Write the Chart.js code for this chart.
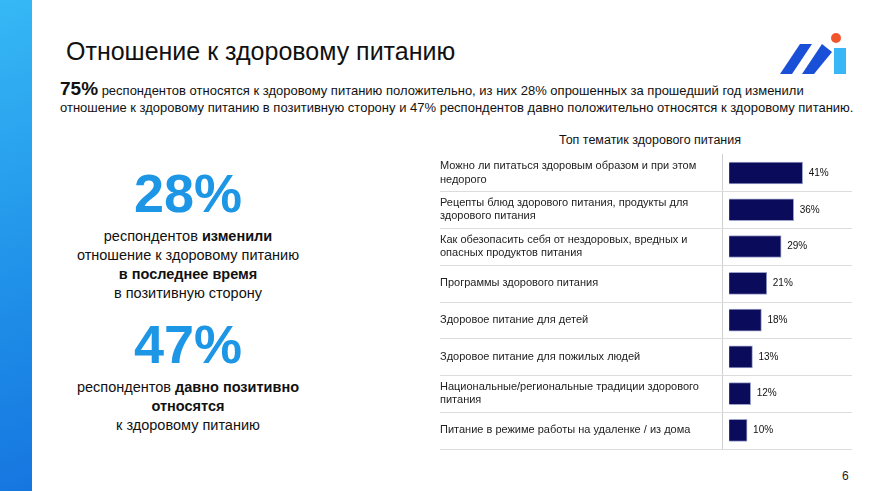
<!DOCTYPE html>
<html>
<head>
<meta charset="utf-8">
<script src="https://cdn.jsdelivr.net/npm/chart.js@4.4.0/dist/chart.umd.min.js"></script>
<style>
  body { margin:0; width:882px; height:491px; overflow:hidden; background:#fff; font-family:"Liberation Sans", Arial, sans-serif; position:relative; }
  .band { position:absolute; left:0; top:0; width:32px; height:491px; background:linear-gradient(160deg,#36b8f5 0%,#1f8fe8 60%,#1676e0 100%); }
  .title { position:absolute; left:66px; top:37px; font-size:25px; color:#111; }
  .lead { position:absolute; left:60px; top:80px; width:810px; font-size:13px; line-height:17px; color:#111; }
  .lead b { font-size:19px; }
  .big { position:absolute; left:60px; width:256px; text-align:center; color:#1e96e6; font-weight:bold; font-size:54px; }
  .txt { position:absolute; left:50px; width:276px; text-align:center; font-size:14.5px; line-height:19px; color:#111; }
  .num { position:absolute; left:842px; top:469px; font-size:12px; color:#222; }
  #wrap { position:absolute; left:440px; top:144px; width:420px; height:322px; }
</style>
</head>
<body>
<div class="band"></div>
<div class="title">Отношение к здоровому питанию</div>
<svg style="position:absolute;left:780px;top:32px" width="72" height="44" viewBox="0 0 72 44">
  <polygon points="0,42 20,12 32,12 12,42" fill="#1a4fd8"/>
  <polygon points="22,42 42,12 52,20 34,42" fill="#1a4fd8"/>
  <rect x="54" y="16" width="12" height="26" fill="#38b6f5"/>
  <circle cx="56" cy="6" r="5" fill="#f2552c"/>
</svg>
<div class="lead"><b>75%</b> респондентов относятся к здоровому питанию положительно, из них 28% опрошенных за прошедший год изменили отношение к здоровому питанию в позитивную сторону и 47% респондентов давно положительно относятся к здоровому питанию.</div>
<div class="big" style="top:162px">28%</div>
<div class="txt" style="top:227px">респондентов <b>изменили</b><br>отношение к здоровому питанию<br><b>в последнее время</b><br>в позитивную сторону</div>
<div class="big" style="top:313px">47%</div>
<div class="txt" style="top:378px">респондентов <b>давно позитивно<br>относятся</b><br>к здоровому питанию</div>
<div style="position:absolute;left:440px;top:133px;width:420px;text-align:center;font-size:12.5px;color:#111">Топ тематик здорового питания</div>
<div class="num">6</div>
<div id="wrap"><canvas id="topChart"></canvas></div>
<script>
const categories = [
  ['Можно ли питаться здоровым образом и при этом', 'недорого'],
  ['Рецепты блюд здорового питания, продукты для', 'здорового питания'],
  ['Как обезопасить себя от нездоровых, вредных и', 'опасных продуктов питания'],
  'Программы здорового питания',
  'Здоровое питание для детей',
  'Здоровое питание для пожилых людей',
  ['Национальные/региональные традиции здорового', 'питания'],
  'Питание в режиме работы на удаленке / из дома'
];
const shares = [41, 36, 29, 21, 18, 13, 12, 10];

// подписи значений и разделители строк
const extras = {
  id: 'extras',
  afterDatasetsDraw(chart) {
    const ctx = chart.ctx;
    const y = chart.scales.y;
    ctx.save();
    ctx.strokeStyle = '#dcdcdc';
    ctx.lineWidth = 1;
    const step = y.getPixelForValue(1) - y.getPixelForValue(0);
    for (let i = 0; i < shares.length; i++) {
      const py = Math.round(y.getPixelForValue(i) + step / 2) + 0.5;
      ctx.beginPath();
      ctx.moveTo(0, py);
      ctx.lineTo(412, py);
      ctx.stroke();
    }
    ctx.fillStyle = '#111';
    ctx.font = '10px "Liberation Sans", Arial';
    ctx.textBaseline = 'middle';
    chart.getDatasetMeta(0).data.forEach((bar, i) => {
      ctx.fillText(shares[i] + '%', bar.x + 6, bar.y);
    });
    ctx.restore();
  }
};

new Chart(document.getElementById('topChart'), {
  type: 'bar',
  data: {
    labels: categories,
    datasets: [{
      data: shares,
      backgroundColor: '#0b0b5c',
      borderColor: '#9aa0c8',
      borderWidth: 1,
      barThickness: 22
    }]
  },
  options: {
    indexAxis: 'y',
    responsive: true,
    maintainAspectRatio: false,
    animation: false,
    layout: { padding: 0 },
    scales: {
      x: { display: false, min: -4, max: 73 },
      y: {
        afterFit: function(scale) { scale.width = 282; },
        grid: { display: false },
        border: { display: true, color: '#cfcfcf' },
        ticks: {
          crossAlign: 'far',
          color: '#222',
          font: { size: 11, family: '"Liberation Sans", Arial' },
          padding: 4
        }
      }
    },
    plugins: {
      legend: { display: false },
      tooltip: { enabled: false }
    }
  },
  plugins: [extras]
});
</script>
</body>
</html>
